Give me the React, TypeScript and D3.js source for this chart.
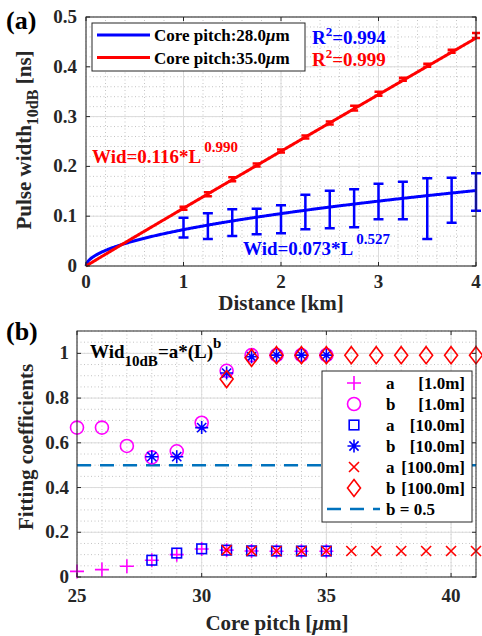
import React from 'react';
import * as d3 from 'd3';

// ---- panel (a) data ----
const distKm = [1, 1.25, 1.5, 1.75, 2, 2.25, 2.5, 2.75, 3, 3.25, 3.5, 3.75, 4];
const blueLow = [0.057, 0.054, 0.060, 0.064, 0.066, 0.074, 0.076, 0.078, 0.094, 0.094, 0.054, 0.087, 0.111];
const blueHigh = [0.097, 0.106, 0.114, 0.115, 0.122, 0.143, 0.151, 0.154, 0.165, 0.169, 0.176, 0.177, 0.186];
const redMean = [0.116, 0.144, 0.174, 0.203, 0.231, 0.259, 0.287, 0.317, 0.346, 0.375, 0.403, 0.431, 0.463];
const redErr = [0.003, 0.004, 0.004, 0.003, 0.003, 0.003, 0.003, 0.005, 0.004, 0.003, 0.003, 0.003, 0.005];
const fitCoefA = [0.073, 0.116];
const fitCoefB = [0.527, 0.990];
const fitColors = ['#0000ff', '#ff0000'];
const pitchLabels = ['28.0', '35.0'];
const rSquared = ['0.994', '0.999'];
const xTicksA = [0, 1, 2, 3, 4];
const yTicksA = [0, 0.1, 0.2, 0.3, 0.4, 0.5];

// ---- panel (b) data ----
const pitch1m = [25, 26, 27, 28, 29, 30, 31, 32, 33, 34, 35];
const a1m = [0.025, 0.033, 0.048, 0.075, 0.100, 0.125, 0.120, 0.116, 0.115, 0.115, 0.115];
const b1m = [0.668, 0.668, 0.586, 0.535, 0.562, 0.690, 0.922, 0.992, 0.992, 0.992, 0.992];
const pitch10m = [28, 29, 30, 31, 32, 33, 34, 35];
const a10m = [0.075, 0.107, 0.126, 0.120, 0.117, 0.116, 0.116, 0.116];
const b10m = [0.538, 0.538, 0.668, 0.912, 0.985, 0.992, 0.992, 0.992];
const pitch100m = [31, 32, 33, 34, 35, 36, 37, 38, 39, 40, 41];
const a100m = [0.120, 0.117, 0.116, 0.116, 0.116, 0.116, 0.116, 0.116, 0.116, 0.116, 0.116];
const b100m = [0.885, 0.980, 0.992, 0.992, 0.992, 0.992, 0.992, 0.992, 0.992, 0.992, 0.992];
const xTicksB = [25, 30, 35, 40];
const yTicksB = [0, 0.2, 0.4, 0.6, 0.8, 1];
const legendB = [
  ['plus', '#ff00ff', 'a', '[1.0m]'],
  ['circle', '#ff00ff', 'b', '[1.0m]'],
  ['square', '#0000ff', 'a', '[10.0m]'],
  ['star', '#0000ff', 'b', '[10.0m]'],
  ['cross', '#ff0000', 'a', '[100.0m]'],
  ['diamond', '#ff0000', 'b', '[100.0m]'],
];

const TXT = { fontFamily: "'Liberation Serif', serif", fontWeight: 'bold' as const };
const AX = '#262626';
const GRID = '#dcdcdc';
const MINOR = '#c4c4c4';

const Marker = ({ type, x, y, color }: { type: string; x: number; y: number; color: string }) => {
  const sw = 1.6;
  if (type === 'plus')
    return <path d={`M${x - 7},${y}H${x + 7}M${x},${y - 7}V${y + 7}`} stroke={color} strokeWidth={sw} fill="none" />;
  if (type === 'circle') return <circle cx={x} cy={y} r={6.5} stroke={color} strokeWidth={sw} fill="none" />;
  if (type === 'square')
    return <rect x={x - 4.8} y={y - 4.8} width={9.6} height={9.6} stroke={color} strokeWidth={sw} fill="none" />;
  if (type === 'cross')
    return <path d={`M${x - 5},${y - 5}L${x + 5},${y + 5}M${x - 5},${y + 5}L${x + 5},${y - 5}`} stroke={color} strokeWidth={sw} fill="none" />;
  if (type === 'diamond')
    return <path d={`M${x},${y - 8.5}L${x + 6.5},${y}L${x},${y + 8.5}L${x - 6.5},${y}Z`} stroke={color} strokeWidth={sw} fill="none" />;
  // asterisk
  const r = 6.5;
  const d = r * 0.707;
  return (
    <path
      d={`M${x - r},${y}H${x + r}M${x},${y - r}V${y + r}M${x - d},${y - d}L${x + d},${y + d}M${x - d},${y + d}L${x + d},${y - d}`}
      stroke={color}
      strokeWidth={sw}
      fill="none"
    />
  );
};

const App = () => {
  // panel (a) scales
  const xa = d3.scaleLinear().domain([0, 4]).range([86, 476]);
  const ya = d3.scaleLinear().domain([0, 0.5]).range([266, 17]);
  // panel (b) scales
  const xb = d3.scaleLinear().domain([25, 41]).range([77, 476]);
  const yb = d3.scaleLinear().domain([0, 1.1]).range([577, 331]);

  const samples = d3.range(0, 4.0001, 0.01);

  const minorXa = d3.range(0, 4.001, 0.2);
  const minorYa = d3.range(0, 0.5001, 0.02);
  const minorXb = d3.range(25, 41.01, 1);
  const minorYb = d3.range(0, 1.1001, 0.05);

  return (
    <svg width={482} height={636} style={{ position: 'absolute', left: 0, top: 0, background: '#fff' }}>
      <rect x={0} y={0} width={482} height={636} fill="#fff" />

      {/* ================= panel (a) ================= */}
      <g>
        {minorXa.map((v, i) => (
          <line key={'mxa' + i} x1={xa(v)} x2={xa(v)} y1={ya(0)} y2={ya(0.5)} stroke={MINOR} strokeDasharray="1 2.5" />
        ))}
        {minorYa.map((v, i) => (
          <line key={'mya' + i} x1={xa(0)} x2={xa(4)} y1={ya(v)} y2={ya(v)} stroke={MINOR} strokeDasharray="1 2.5" />
        ))}
        {xTicksA.map((v) => (
          <line key={'gxa' + v} x1={xa(v)} x2={xa(v)} y1={ya(0)} y2={ya(0.5)} stroke={GRID} />
        ))}
        {yTicksA.map((v) => (
          <line key={'gya' + v} x1={xa(0)} x2={xa(4)} y1={ya(v)} y2={ya(v)} stroke={GRID} />
        ))}

        {/* fit curves */}
        {fitCoefA.map((a, k) => (
          <path
            key={'fit' + k}
            d={
              d3
                .line<number>()
                .x((d) => xa(d))
                .y((d) => ya(a * Math.pow(d, fitCoefB[k])))(samples) || ''
            }
            stroke={fitColors[k]}
            strokeWidth={3}
            fill="none"
          />
        ))}

        {/* blue error bars */}
        {distKm.map((d, i) => (
          <path
            key={'eb' + i}
            d={`M${xa(d)},${ya(blueLow[i])}V${ya(blueHigh[i])}M${xa(d) - 5},${ya(blueLow[i])}h10M${xa(d) - 5},${ya(blueHigh[i])}h10`}
            stroke="#0000ff"
            strokeWidth={2.5}
            fill="none"
          />
        ))}
        {/* red error bars */}
        {distKm.map((d, i) => (
          <path
            key={'er' + i}
            d={`M${xa(d)},${ya(redMean[i] - redErr[i])}V${ya(redMean[i] + redErr[i])}M${xa(d) - 4},${ya(redMean[i] - redErr[i])}h8M${xa(d) - 4},${ya(redMean[i] + redErr[i])}h8`}
            stroke="#ff0000"
            strokeWidth={2.5}
            fill="none"
          />
        ))}

        {/* axes box and ticks */}
        <rect x={xa(0)} y={ya(0.5)} width={xa(4) - xa(0)} height={ya(0) - ya(0.5)} fill="none" stroke={AX} strokeWidth={1} />
        {xTicksA.map((v) => (
          <path key={'txa' + v} d={`M${xa(v)},${ya(0)}v-4M${xa(v)},${ya(0.5)}v4`} stroke={AX} />
        ))}
        {yTicksA.map((v) => (
          <path key={'tya' + v} d={`M${xa(0)},${ya(v)}h4M${xa(4)},${ya(v)}h-4`} stroke={AX} />
        ))}
        {xTicksA.map((v) => (
          <text key={'lxa' + v} x={xa(v)} y={288} textAnchor="middle" fontSize={19} fill={AX} style={TXT}>
            {v}
          </text>
        ))}
        {yTicksA.map((v) => (
          <text key={'lya' + v} x={77} y={ya(v) + 6} textAnchor="end" fontSize={19} fill={AX} style={TXT}>
            {v}
          </text>
        ))}
        <text x={281} y={310} textAnchor="middle" fontSize={21} fill={AX} style={TXT}>
          Distance [km]
        </text>
        <text transform="translate(31,140) rotate(-90)" textAnchor="middle" fontSize={21} fill={AX} style={TXT}>
          Pulse width
          <tspan fontSize={16} dy={7}>10dB</tspan>
          <tspan dy={-7}> [ns]</tspan>
        </text>
        <text x={6} y={29} fontSize={26} fill="#000" style={TXT}>
          (a)
        </text>

        {/* legend */}
        <rect x={92} y={23} width={213} height={48} fill="#fff" stroke={AX} strokeWidth={1} />
        {pitchLabels.map((p, k) => (
          <g key={'lg' + k}>
            <line x1={97} x2={150} y1={35 + k * 22.5} y2={35 + k * 22.5} stroke={fitColors[k]} strokeWidth={3} />
            <text x={154} y={41 + k * 22.5} fontSize={17} fill="#000" style={TXT}>
              Core pitch:{p}
              <tspan fontStyle="italic">μ</tspan>m
            </text>
          </g>
        ))}
        {rSquared.map((r, k) => (
          <text key={'r2' + k} x={312} y={44 + k * 22} fontSize={19} fill={fitColors[k]} style={TXT}>
            R<tspan fontSize={13} dy={-8}>2</tspan>
            <tspan dy={8}>={r}</tspan>
          </text>
        ))}
        <text x={92} y={163} fontSize={19} fill="#ff0000" style={TXT}>
          Wid={fitCoefA[1].toFixed(3)}*L
          <tspan fontSize={15} dx={3} dy={-11}>{fitCoefB[1].toFixed(3)}</tspan>
        </text>
        <text x={243} y={255} fontSize={19} fill="#0000ff" style={TXT}>
          Wid={fitCoefA[0].toFixed(3)}*L
          <tspan fontSize={15} dx={3} dy={-11}>{fitCoefB[0].toFixed(3)}</tspan>
        </text>
      </g>

      {/* ================= panel (b) ================= */}
      <g>
        {minorXb.map((v, i) => (
          <line key={'mxb' + i} x1={xb(v)} x2={xb(v)} y1={yb(0)} y2={yb(1.1)} stroke={MINOR} strokeDasharray="1 2.5" />
        ))}
        {minorYb.map((v, i) => (
          <line key={'myb' + i} x1={xb(25)} x2={xb(41)} y1={yb(v)} y2={yb(v)} stroke={MINOR} strokeDasharray="1 2.5" />
        ))}
        {xTicksB.map((v) => (
          <line key={'gxb' + v} x1={xb(v)} x2={xb(v)} y1={yb(0)} y2={yb(1.1)} stroke={GRID} />
        ))}
        {yTicksB.map((v) => (
          <line key={'gyb' + v} x1={xb(25)} x2={xb(41)} y1={yb(v)} y2={yb(v)} stroke={GRID} />
        ))}

        <line x1={xb(25)} x2={xb(41)} y1={yb(0.5)} y2={yb(0.5)} stroke="#0072bd" strokeWidth={2.5} strokeDasharray="14 9" />

        {pitch1m.map((p, i) => (
          <Marker key={'a1' + i} type="plus" x={xb(p)} y={yb(a1m[i])} color="#ff00ff" />
        ))}
        {pitch1m.map((p, i) => (
          <Marker key={'b1' + i} type="circle" x={xb(p)} y={yb(b1m[i])} color="#ff00ff" />
        ))}
        {pitch10m.map((p, i) => (
          <Marker key={'a10' + i} type="square" x={xb(p)} y={yb(a10m[i])} color="#0000ff" />
        ))}
        {pitch10m.map((p, i) => (
          <Marker key={'b10' + i} type="star" x={xb(p)} y={yb(b10m[i])} color="#0000ff" />
        ))}
        {pitch100m.map((p, i) => (
          <Marker key={'a100' + i} type="cross" x={xb(p)} y={yb(a100m[i])} color="#ff0000" />
        ))}
        {pitch100m.map((p, i) => (
          <Marker key={'b100' + i} type="diamond" x={xb(p)} y={yb(b100m[i])} color="#ff0000" />
        ))}

        <rect x={xb(25)} y={yb(1.1)} width={xb(41) - xb(25)} height={yb(0) - yb(1.1)} fill="none" stroke={AX} strokeWidth={1} />
        {xTicksB.map((v) => (
          <path key={'txb' + v} d={`M${xb(v)},${yb(0)}v-4M${xb(v)},${yb(1.1)}v4`} stroke={AX} />
        ))}
        {yTicksB.map((v) => (
          <path key={'tyb' + v} d={`M${xb(25)},${yb(v)}h4M${xb(41)},${yb(v)}h-4`} stroke={AX} />
        ))}
        {xTicksB.map((v) => (
          <text key={'lxb' + v} x={xb(v)} y={602} textAnchor="middle" fontSize={19} fill={AX} style={TXT}>
            {v}
          </text>
        ))}
        {yTicksB.map((v) => (
          <text key={'lyb' + v} x={69} y={yb(v) + 6} textAnchor="end" fontSize={19} fill={AX} style={TXT}>
            {v}
          </text>
        ))}
        <text x={277} y={630} textAnchor="middle" fontSize={21} fill={AX} style={TXT}>
          Core pitch [<tspan fontStyle="italic">μ</tspan>m]
        </text>
        <text transform="translate(33,447) rotate(-90)" textAnchor="middle" fontSize={21} fill={AX} style={TXT}>
          Fitting coefficients
        </text>
        <text x={6} y={340} fontSize={26} fill="#000" style={TXT}>
          (b)
        </text>
        <text x={90} y={358} fontSize={19} fill="#000" style={TXT}>
          Wid
          <tspan fontSize={15} dy={8}>10dB</tspan>
          <tspan dy={-8}>=a*(L)</tspan>
          <tspan fontSize={15} dy={-10}>b</tspan>
        </text>

        {/* legend */}
        <rect x={322} y={371} width={150} height={151} fill="#fff" stroke={AX} strokeWidth={1} />
        {legendB.map(([t, c, ab, lab], k) => (
          <g key={'lb' + k}>
            <Marker type={t} x={354} y={383 + k * 21} color={c} />
            <text x={386} y={389 + k * 21} fontSize={17} fill="#000" style={TXT}>
              {ab}
            </text>
            <text x={465} y={389 + k * 21} fontSize={17} fill="#000" textAnchor="end" style={TXT}>
              {lab}
            </text>
          </g>
        ))}
        <line x1={327} x2={380} y1={509} y2={509} stroke="#0072bd" strokeWidth={2.5} strokeDasharray="14 9" />
        <text x={386} y={515} fontSize={17} fill="#000" style={TXT}>
          b = 0.5
        </text>
      </g>
    </svg>
  );
};

export default App;
